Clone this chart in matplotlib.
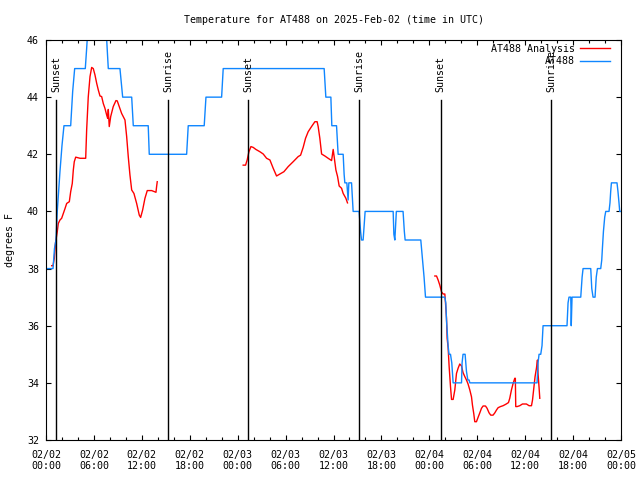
import pandas as pd
import matplotlib
matplotlib.use('Agg')
import matplotlib.pyplot as plt
from matplotlib.ticker import MultipleLocator, FuncFormatter
import matplotlib.transforms as mtransforms

# hours since 2025-02-02 00:00 UTC
START = pd.Timestamp('2025-02-02 00:00')

# observed temperature (AT488)
obs_hours = [0.0, 0.88, 1.06, 1.25, 1.41, 1.75, 2.0, 2.25, 3.09, 3.34, 3.59, 4.92, 5.09, 5.38,
             7.45, 7.6, 7.8, 9.26, 9.6, 10.73, 10.93, 12.8, 12.93, 17.61, 17.81, 19.81, 20.03,
             21.99, 22.19, 34.83, 35.04, 35.67, 35.79, 36.38, 36.58, 37.21, 37.33, 37.42, 37.67,
             37.83, 37.92, 38.26, 38.46, 39.21, 39.39, 39.51, 39.71, 39.96, 43.47, 43.56, 43.68,
             43.87, 44.71, 44.87, 44.97, 46.93, 47.15, 47.34, 47.52, 49.94, 50.06, 50.15, 50.35,
             50.47, 50.65, 50.81, 50.98, 52.03, 52.1, 52.22, 52.48, 52.65, 52.82, 52.98, 53.07,
             61.49, 61.61, 61.74, 61.95, 62.11, 62.24, 65.24, 65.37, 65.49, 65.71, 65.77, 65.87,
             66.96, 67.13, 67.25, 68.21, 68.34, 68.5, 68.75, 68.9, 69.05, 69.46, 69.59, 69.67,
             69.8, 69.96, 70.09, 70.5, 70.62, 70.71, 70.8, 71.5, 71.62, 71.75, 71.84, 71.96]
obs_temp = [38.0, 38.0, 38.7, 39.0, 40.0, 41.4, 42.3, 43.0, 43.0, 44.2, 45.0, 45.0, 45.7, 47.0,
            47.0, 46.0, 45.0, 45.0, 44.0, 44.0, 43.0, 43.0, 42.0, 42.0, 43.0, 43.0, 44.0,
            44.0, 45.0, 45.0, 44.0, 44.0, 43.0, 43.0, 42.0, 42.0, 41.3, 41.0, 41.0,
            40.4, 41.0, 41.0, 40.0, 40.0, 39.3, 39.0, 39.0, 40.0, 40.0, 39.2, 39.0,
            40.0, 40.0, 39.3, 39.0, 39.0, 38.3, 37.7, 37.0, 37.0, 36.8, 36.2, 35.3,
            35.0, 35.0, 34.7, 34.0, 34.0, 34.7, 35.0, 35.0, 34.4, 34.1, 34.1, 34.0,
            34.0, 34.7, 35.0, 35.0, 35.3, 36.0, 36.0, 36.8, 37.0, 37.0, 36.0, 37.0,
            37.0, 37.7, 38.0, 38.0, 37.3, 37.0, 37.0, 37.7, 38.0, 38.0, 38.3, 38.7,
            39.3, 39.8, 40.0, 40.0, 40.3, 40.7, 41.0, 41.0, 40.7, 40.3, 40.0, 40.0]

# analysis runs (three separate pieces)
ana1_hours = [0.71, 0.88, 1.04, 1.19, 1.41, 1.54, 1.75, 1.96, 2.17, 2.38, 2.59, 2.92, 3.09, 3.29,
              3.42, 3.54, 3.72, 4.26, 4.97, 5.09, 5.29, 5.51, 5.72, 5.92, 6.13, 6.35, 6.55, 6.76,
              6.97, 7.17, 7.38, 7.6, 7.72, 7.8, 7.92, 8.1, 8.42, 8.76, 8.92, 9.17, 9.47, 9.89,
              10.1, 10.3, 10.51, 10.73, 11.01, 11.35, 11.68, 11.85, 12.1, 12.39, 12.68, 13.23,
              13.77, 13.85, 13.93]
ana1_temp = [38.1, 38.1, 38.36, 38.9, 39.29, 39.58, 39.7, 39.76, 39.93, 40.1, 40.28, 40.34, 40.69,
             40.98, 41.45, 41.74, 41.9, 41.86, 41.86, 42.85, 44.0, 44.72, 45.04, 45.0, 44.78,
             44.48, 44.25, 44.04, 44.02, 43.78, 43.61, 43.37, 43.26, 43.57, 42.97, 43.32, 43.67,
             43.88, 43.87, 43.67, 43.43, 43.2, 42.62, 41.92, 41.28, 40.75, 40.63, 40.28, 39.87,
             39.79, 40.05, 40.46, 40.73, 40.73, 40.67, 40.87, 41.04]

ana2_hours = [24.69, 24.99, 25.19, 25.41, 25.66, 25.95, 26.28, 26.78, 27.2, 27.62, 28.04, 28.45,
              28.87, 29.29, 29.79, 30.33, 30.95, 31.58, 31.88, 32.2, 32.5, 32.83, 33.25, 33.67,
              33.95, 34.08, 34.29, 34.51, 34.92, 35.33, 35.76, 35.96, 36.08, 36.3, 36.51, 36.71,
              37.01, 37.21, 37.55, 37.75]
ana2_temp = [41.62, 41.62, 41.8, 42.09, 42.27, 42.24, 42.17, 42.09, 42.01, 41.86, 41.8, 41.51,
             41.24, 41.31, 41.39, 41.57, 41.74, 41.92, 41.97, 42.24, 42.56, 42.79, 42.97, 43.14,
             43.14, 42.97, 42.56, 42.01, 41.94, 41.86, 41.78, 42.17, 41.92, 41.45, 41.22, 40.89,
             40.81, 40.63, 40.46, 40.3]

ana3_hours = [48.69, 48.9, 49.1, 49.31, 49.52, 49.72, 49.94, 50.03, 50.15, 50.23, 50.35, 50.48,
              50.65, 50.78, 50.98, 51.19, 51.4, 51.6, 51.81, 52.03, 52.22, 52.44, 52.65, 52.85,
              53.07, 53.28, 53.4, 53.57, 53.69, 53.9, 54.1, 54.32, 54.53, 54.73, 55.03, 55.23,
              55.48, 55.69, 55.98, 56.2, 56.41, 56.61, 56.91, 57.23, 57.57, 57.91, 58.07, 58.28,
              58.49, 58.7, 58.77, 58.82, 58.99, 59.32, 59.66, 60.16, 60.49, 60.79, 60.92, 61.08,
              61.24, 61.41, 61.54, 61.61, 61.74, 61.83]
ana3_temp = [37.74, 37.74, 37.6, 37.42, 37.19, 37.11, 37.11, 36.78, 36.26, 35.56, 35.24, 34.57,
             33.87, 33.42, 33.42, 33.75, 34.33, 34.51, 34.66, 34.59, 34.36, 34.22, 34.1, 33.96,
             33.75, 33.51, 33.22, 32.91, 32.64, 32.64, 32.79, 32.95, 33.11, 33.19, 33.19, 33.11,
             32.95, 32.87, 32.87, 32.95, 33.05, 33.13, 33.17, 33.2, 33.25, 33.31, 33.46, 33.75,
             33.98, 34.16, 34.16, 33.17, 33.17, 33.2, 33.26, 33.26, 33.2, 33.2, 33.4, 33.81,
             34.22, 34.51, 34.8, 34.33, 33.84, 33.46]

sun_hours = [1.25, 15.3, 25.3, 39.2, 49.4, 63.25]
sun_labels = ['Sunset', 'Sunrise', 'Sunset', 'Sunrise', 'Sunset', 'Sunrise']

RED = '#ff0000'
BLUE = '#0f86ff'

plt.rcParams.update({
    'font.family': 'DejaVu Sans Mono',
    'font.size': 7.2,
})

fig = plt.figure(figsize=(6.4, 4.8), dpi=100)
ax = fig.add_axes([46 / 640, 40 / 480, 575 / 640, 400 / 480])

ax.plot(ana1_hours, ana1_temp, color=RED, lw=1.0, label='AT488 Analysis')
ax.plot(ana2_hours, ana2_temp, color=RED, lw=1.0)
ax.plot(ana3_hours, ana3_temp, color=RED, lw=1.0)
ax.plot(obs_hours, obs_temp, color=BLUE, lw=1.0, label='AT488')

trans = mtransforms.blended_transform_factory(ax.transData, ax.transAxes)
for h, lab in zip(sun_hours, sun_labels):
    ax.axvline(h, ymin=0, ymax=0.85, color='black', lw=1.0)
    ax.text(h, 0.87, lab, transform=trans, rotation=90, ha='center', va='bottom')

ax.set_xlim(0, 72)
ax.set_ylim(32, 46)
ax.xaxis.set_major_locator(MultipleLocator(6))
ax.xaxis.set_minor_locator(MultipleLocator(2))
ax.yaxis.set_major_locator(MultipleLocator(2))
ax.xaxis.set_major_formatter(FuncFormatter(
    lambda h, pos: (START + pd.Timedelta(hours=h)).strftime('%m/%d\n%H:%M')))
ax.tick_params(which='both', direction='in', top=True, right=True, width=0.8, colors='black')
ax.tick_params(which='major', length=3.5)
ax.tick_params(which='minor', length=2)
ax.tick_params(axis='x', pad=7)
ax.tick_params(axis='y', pad=5)
for s in ax.spines.values():
    s.set_linewidth(0.8)

ax.set_title('Temperature for AT488 on 2025-Feb-02 (time in UTC)', fontsize=7.2, pad=12.5)
fig.text(10 / 640, 0.5, 'degrees F', rotation=90, ha='center', va='center')

ax.legend(loc='upper right', bbox_to_anchor=(0.981, 0.99), frameon=False, markerfirst=False,
          handlelength=3.0, handletextpad=0.5, labelspacing=0.25, borderpad=0,
          borderaxespad=0, fontsize=7.2)

fig.savefig('out.png', dpi=100)
